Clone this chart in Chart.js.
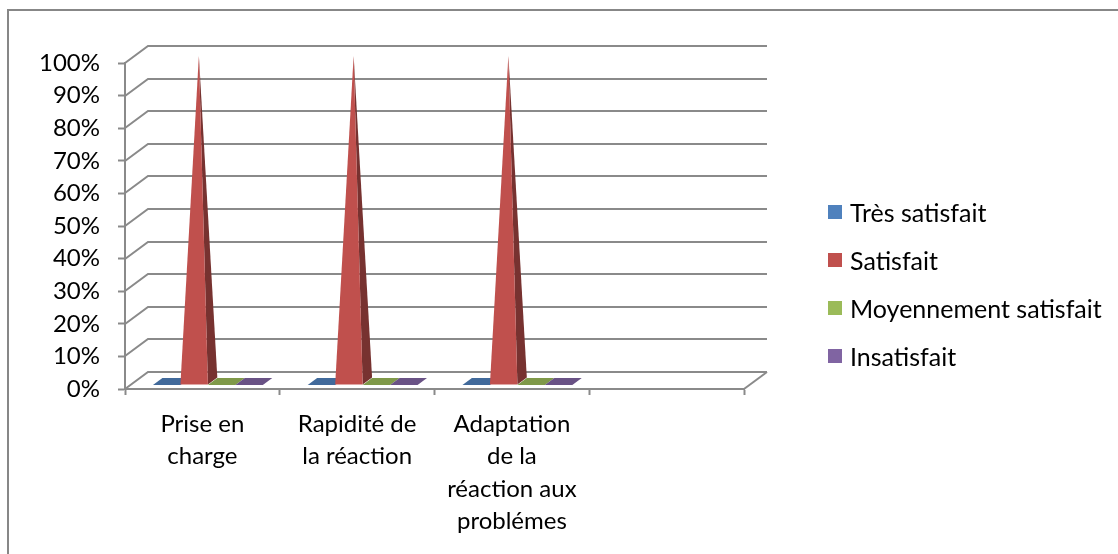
<!DOCTYPE html>
<html lang="fr">
<head>
<meta charset="utf-8">
<title>Satisfaction</title>
<script src="https://cdn.jsdelivr.net/npm/chart.js@4.4.1/dist/chart.umd.min.js"></script>
<style>
  html, body { margin: 0; padding: 0; background: #fff; }
  #wrap { position: relative; width: 1118px; height: 554px; overflow: hidden; font-family: Lato, sans-serif; }
  #frame { position: absolute; left: 7px; top: 9px; right: -2px; bottom: -2px;
           border-left: 2px solid #878787; border-top: 2px solid #878787; }
  #chart { position: absolute; left: 0; top: 0; }
  #legend { position: absolute; left: 828px; top: 188px; margin: 0; padding: 0; list-style: none; }
  #legend li { display: flex; align-items: center; height: 48px; font-size: 25px; color: #000; white-space: nowrap; }
  #legend .box { width: 14px; height: 14px; margin-right: 8px; flex: none; }
</style>
</head>
<body>
<div id="wrap">
  <div id="frame"></div>
  <canvas id="chart" width="1118" height="554"></canvas>
  <ul id="legend"></ul>
</div>
<script>
const categories = [['Prise en', 'charge'], ['Rapidité de', 'la réaction'], ['Adaptation', 'de la', 'réaction aux', 'problémes'], ''];
const tresSatisfait = [0, 0, 0, null];
const satisfait = [100, 100, 100, null];
const moyennementSatisfait = [0, 0, 0, null];
const insatisfait = [0, 0, 0, null];
const seriesNames = ['Très satisfait', 'Satisfait', 'Moyennement satisfait', 'Insatisfait'];
const seriesColors = ['#4F81BD', '#C0504D', '#9BBB59', '#8064A2'];

// fake perspective: back wall is shifted right/up from the front plane
const DX = 23, DY = -17;
const FRONT = 0.24, BACK = 0.65;   // depth slice occupied by the marks
const GRID = '#8a8a8a';

function shade(hex, k) {
    const n = parseInt(hex.slice(1), 16);
    const c = [n >> 16, (n >> 8) & 255, n & 255].map(v => Math.round(v * k));
    return `rgb(${c[0]},${c[1]},${c[2]})`;
}

function poly(ctx, pts, fill) {
    ctx.beginPath();
    ctx.moveTo(pts[0][0], pts[0][1]);
    pts.slice(1).forEach(p => ctx.lineTo(p[0], p[1]));
    ctx.closePath();
    ctx.fillStyle = fill;
    ctx.fill();
}

const depthPlugin = {
    id: 'depth3d',
    beforeDatasetsDraw(chart) {
        const { ctx, chartArea: a, scales: { y } } = chart;
        ctx.save();
        ctx.strokeStyle = GRID;
        ctx.lineWidth = 2;
        y.ticks.forEach(t => {
            const py = Math.round(y.getPixelForValue(t.value));
            ctx.beginPath();
            ctx.moveTo(a.left, py);
            ctx.lineTo(a.left + DX, py + DY);
            ctx.lineTo(a.right + DX, py + DY);
            ctx.stroke();
        });
        const py0 = Math.round(y.getPixelForValue(0));
        ctx.beginPath();
        ctx.moveTo(a.right + DX, py0 + DY);
        ctx.lineTo(a.right, py0);
        ctx.stroke();

        // pyramids / flat tops, left to right
        categories.forEach((c, j) => {
            chart.data.datasets.forEach((ds, i) => {
                const v = ds.data[j];
                if (v == null) return;
                const bar = chart.getDatasetMeta(i).data[j];
                const { x, y: top, base, width } = bar.getProps(['x', 'y', 'base', 'width'], true);
                const l = x - width / 2, r = x + width / 2;
                const fl = [l + FRONT * DX, base + FRONT * DY];
                const fr = [r + FRONT * DX, base + FRONT * DY];
                const br = [r + BACK * DX, base + BACK * DY];
                const bl = [l + BACK * DX, base + BACK * DY];
                const col = seriesColors[i];
                if (v > 0) {
                    const mid = (FRONT + BACK) / 2;
                    const apex = [x + mid * DX, top + mid * DY];
                    poly(ctx, [fr, br, apex], shade(col, 0.62));
                    poly(ctx, [fl, fr, apex], col);
                } else {
                    poly(ctx, [fl, fr, br, bl], shade(col, 0.82));
                }
            });
        });
        ctx.restore();
        return false;
    }
};

Chart.defaults.font.family = 'Lato, sans-serif';
Chart.defaults.font.size = 24;
Chart.defaults.color = '#000';

new Chart(document.getElementById('chart'), {
    type: 'bar',
    data: {
        labels: categories,
        datasets: [
            { label: seriesNames[0], data: tresSatisfait, backgroundColor: seriesColors[0] },
            { label: seriesNames[1], data: satisfait, backgroundColor: seriesColors[1] },
            { label: seriesNames[2], data: moyennementSatisfait, backgroundColor: seriesColors[2] },
            { label: seriesNames[3], data: insatisfait, backgroundColor: seriesColors[3] }
        ]
    },
    options: {
        responsive: false,
        animation: false,
        datasets: { bar: { categoryPercentage: 0.71, barPercentage: 1 } },
        layout: { padding: { top: 63, right: 374, bottom: 0, left: 0 } },
        plugins: { legend: { display: false }, tooltip: { enabled: false } },
        scales: {
            x: {
                grid: { drawOnChartArea: false, tickLength: 6, tickColor: GRID, tickWidth: 2 },
                border: { color: GRID, width: 2 },
                ticks: { autoSkip: false, maxRotation: 0, padding: 13, font: { lineHeight: 1.35 } },
                afterFit(scale) { scale.height = 165; }
            },
            y: {
                min: 0,
                max: 100,
                grid: { drawOnChartArea: false, tickLength: 7, tickColor: GRID, tickWidth: 2 },
                border: { color: GRID, width: 2 },
                ticks: { stepSize: 10, autoSkip: false, padding: 18, callback: v => v + '%' },
                afterFit(scale) { scale.width = 125; }
            }
        }
    },
    plugins: [depthPlugin]
});

// legend built from the same series arrays
const legend = document.getElementById('legend');
seriesNames.forEach((name, i) => {
    const li = document.createElement('li');
    const box = document.createElement('span');
    box.className = 'box';
    box.style.background = seriesColors[i];
    li.appendChild(box);
    li.appendChild(document.createTextNode(name));
    legend.appendChild(li);
});
</script>
</body>
</html>
